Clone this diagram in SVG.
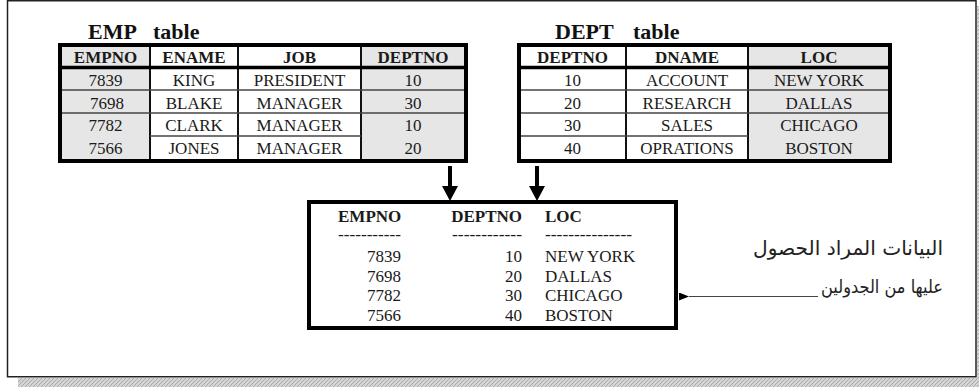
<svg xmlns="http://www.w3.org/2000/svg" width="979" height="387" viewBox="0 0 979 387">
<defs>
<pattern id="hatch" width="4" height="4" patternUnits="userSpaceOnUse">
<rect width="4" height="4" fill="#d4d4d4"/>
<path d="M0,4 L4,0" stroke="#a9a9a9" stroke-width="1"/>
</pattern>
<marker id="ah" markerWidth="10" markerHeight="8" refX="0" refY="4" orient="auto" markerUnits="userSpaceOnUse">
<path d="M0,4 L10,0 L10,8 Z" fill="#000"/>
</marker>
</defs>
<style>
.t{font-family:"Liberation Serif","Times New Roman",serif;font-size:17px;fill:#1a1a1a;text-anchor:middle}
.h{font-weight:bold}
.ttl{font-family:"Liberation Serif","Times New Roman",serif;font-size:22px;font-weight:bold;fill:#111}
.r{font-family:"Liberation Serif","Times New Roman",serif;font-size:17px;fill:#1a1a1a}
.gray{fill:#e6e6e6}
.rl{stroke:#444;stroke-width:1.5}
.cl{stroke:#111;stroke-width:2}
.ob{fill:none;stroke:#000;stroke-width:4}
.ar{font-family:"DejaVu Sans","Noto Sans",sans-serif;font-size:20px;fill:#222;text-anchor:end}
</style>
<rect width="979" height="387" fill="#fff"/>
<!-- shadow and frame -->
<rect x="18" y="378" width="961" height="9" fill="url(#hatch)"/>
<rect x="977" y="6" width="2" height="381" fill="url(#hatch)"/>
<rect x="7.5" y="0.75" width="968.5" height="376" fill="#fff" stroke="#222" stroke-width="1.5"/>

<g id="emp-table">
<text class="ttl" x="88" y="39">EMP</text>
<text class="ttl" x="153" y="39">table</text>
<rect class="gray" x="60" y="45" width="90" height="116"/>
<rect class="gray" x="361" y="45" width="105" height="116"/>
<line class="cl" x1="150" y1="45" x2="150" y2="161"/>
<line class="cl" x1="238" y1="45" x2="238" y2="161"/>
<line class="cl" x1="361" y1="45" x2="361" y2="161"/>
<line x1="60" y1="67.5" x2="466" y2="67.5" stroke="#000" stroke-width="3.5"/>
<line class="rl" x1="60" y1="90" x2="466" y2="90"/>
<line class="rl" x1="60" y1="113" x2="466" y2="113"/>
<line class="rl" x1="150" y1="136" x2="361" y2="136"/>
<rect class="ob" x="60" y="45" width="406" height="116"/>
<text class="t h" x="105.5" y="62.5">EMPNO</text>
<text class="t h" x="194" y="62.5">ENAME</text>
<text class="t h" x="299.5" y="62.5">JOB</text>
<text class="t h" x="413" y="62.5">DEPTNO</text>
<text class="t" x="105.5" y="86">7839</text>
<text class="t" x="194" y="86">KING</text>
<text class="t" x="299.5" y="86">PRESIDENT</text>
<text class="t" x="413" y="86">10</text>
<text class="t" x="107" y="108.5">7698</text>
<text class="t" x="194" y="108.5">BLAKE</text>
<text class="t" x="299.5" y="108.5">MANAGER</text>
<text class="t" x="413" y="108.5">30</text>
<text class="t" x="105.5" y="131">7782</text>
<text class="t" x="194" y="131">CLARK</text>
<text class="t" x="299.5" y="131">MANAGER</text>
<text class="t" x="413" y="131">10</text>
<text class="t" x="105.5" y="154">7566</text>
<text class="t" x="194" y="154">JONES</text>
<text class="t" x="299.5" y="154">MANAGER</text>
<text class="t" x="413" y="154">20</text>
</g>

<g id="dept-table">
<text class="ttl" x="555" y="39">DEPT</text>
<text class="ttl" x="633" y="39">table</text>
<rect class="gray" x="748" y="45" width="142" height="116"/>
<line class="cl" x1="626" y1="45" x2="626" y2="161"/>
<line class="cl" x1="748" y1="45" x2="748" y2="161"/>
<line x1="519" y1="67.5" x2="890" y2="67.5" stroke="#000" stroke-width="3.5"/>
<line class="rl" x1="519" y1="90" x2="890" y2="90"/>
<line class="rl" x1="519" y1="113" x2="890" y2="113"/>
<line class="rl" x1="519" y1="136" x2="748" y2="136"/>
<rect class="ob" x="519" y="45" width="371" height="116"/>
<text class="t h" x="572.5" y="62.5">DEPTNO</text>
<text class="t h" x="687" y="62.5">DNAME</text>
<text class="t h" x="819" y="62.5">LOC</text>
<text class="t" x="572.5" y="86">10</text>
<text class="t" x="687" y="86">ACCOUNT</text>
<text class="t" x="819" y="86">NEW YORK</text>
<text class="t" x="572.5" y="108.5">20</text>
<text class="t" x="687" y="108.5">RESEARCH</text>
<text class="t" x="819" y="108.5">DALLAS</text>
<text class="t" x="572.5" y="131">30</text>
<text class="t" x="687" y="131">SALES</text>
<text class="t" x="819" y="131">CHICAGO</text>
<text class="t" x="572.5" y="154">40</text>
<text class="t" x="687" y="154">OPRATIONS</text>
<text class="t" x="819" y="154">BOSTON</text>
</g>

<g id="result">
<rect x="309" y="202" width="367" height="126" fill="none" stroke="#000" stroke-width="4"/>
<text class="r h" x="338" y="222">EMPNO</text>
<text class="r h" x="522" y="222" text-anchor="end">DEPTNO</text>
<text class="r h" x="545" y="222">LOC</text>
<text class="r" x="338" y="240" textLength="63" lengthAdjust="spacingAndGlyphs">-----------</text>
<text class="r" x="452" y="240" textLength="70" lengthAdjust="spacingAndGlyphs">------------</text>
<text class="r" x="545" y="240" textLength="87" lengthAdjust="spacingAndGlyphs">---------------</text>
<g text-anchor="end">
<text class="r" x="401" y="262">7839</text>
<text class="r" x="401" y="281.5">7698</text>
<text class="r" x="401" y="301">7782</text>
<text class="r" x="401" y="320.5">7566</text>
<text class="r" x="522" y="262">10</text>
<text class="r" x="522" y="281.5">20</text>
<text class="r" x="522" y="301">30</text>
<text class="r" x="522" y="320.5">40</text>
</g>
<text class="r" x="545" y="262">NEW YORK</text>
<text class="r" x="545" y="281.5">DALLAS</text>
<text class="r" x="545" y="301">CHICAGO</text>
<text class="r" x="545" y="320.5">BOSTON</text>
</g>

<g id="note">
<text class="ar" x="943" y="255" textLength="190" lengthAdjust="spacingAndGlyphs">البيانات المراد الحصول</text>
<text class="ar" x="943" y="293" style="font-size:18px" textLength="122" lengthAdjust="spacingAndGlyphs">عليها من الجدولين</text>
</g>

<g id="connectors">
<rect x="448" y="166" width="4" height="22" fill="#000"/>
<polygon points="442,186 458,186 450,201" fill="#000"/>
<rect x="535" y="166" width="4" height="22" fill="#000"/>
<polygon points="529,186 545,186 537,201" fill="#000"/>
<line x1="818" y1="296.5" x2="689" y2="296.5" stroke="#444" stroke-width="1.2" marker-end="url(#ah)"/>
</g>
</svg>
